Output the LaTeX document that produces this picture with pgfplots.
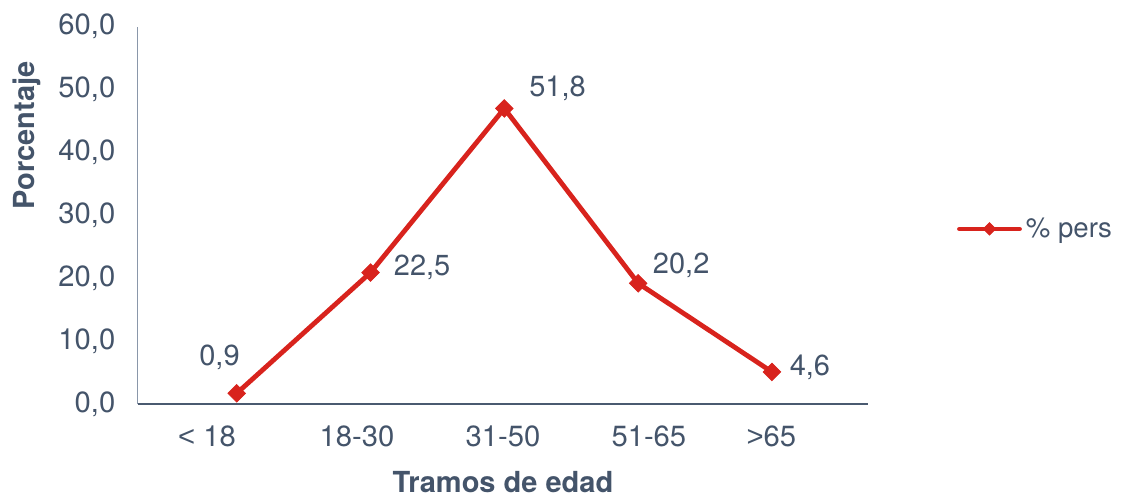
\documentclass[border=0pt]{standalone}
\usepackage{pgfplots}
\pgfplotsset{compat=1.18}
\usepackage{pgfplotstable}
\usepackage{fontspec}
\setmainfont{TeX Gyre Heros}
\newfontfamily\lib{Liberation Sans}
\definecolor{txt}{HTML}{44546A}
\definecolor{ser}{HTML}{D8231D}
\definecolor{yax}{HTML}{8A97AA}
\definecolor{xax}{HTML}{4A5A70}
\pgfplotstableread{
x y lbl dx dy
0 1.70 0,9 -18.9 18.2
1 20.9 22,5 11.5 2.5
2 47.0 51,8 12.3 10.0
3 19.2 20,2 7.2 9.0
4 5.1 4,6 8.7 2.3
}\datatable
\begin{document}
\begin{tikzpicture}
\path[use as bounding box] (-68.85pt,-46.5pt) rectangle (492.15pt,202pt);
\begin{axis}[
  at={(0pt,0pt)}, anchor=south west,
  scale only axis=true,
  width=365.3pt, height=188.65pt,
  xmin=-0.74, xmax=4.72,
  ymin=0, ymax=60,
  ytick={0,10,...,60},
  xtick={-0.222,0.899,1.99,3.08,3.996},
  xticklabels={{{\lib<} 18},18-30,31-50,51-65,{{\lib>}65}},
  axis x line*=bottom, axis y line*=left,
  x axis line style={-, draw=xax, line width=0.6pt},
  y axis line style={-, draw=yax, line width=0.6pt},
  major tick length=0pt,
  tick style={draw=none},
  /pgf/number format/.cd, fixed, fixed zerofill, precision=1, use comma, assume math mode=true,
  /pgfplots/.cd,
  tick label style={font=\fontsize{14.6}{17}\selectfont, text=txt, inner sep=0pt},
  yticklabel style={anchor=east, xshift=-11pt},
  xticklabel style={anchor=north, yshift=-10.5pt},
  xlabel={Tramos de edad},
  ylabel={Porcentaje},
  label style={font=\fontsize{14.5}{17}\selectfont\bfseries, text=txt, inner sep=0pt},
  xlabel style={at={(axis description cs:0.5,0)}, anchor=north, yshift=-33.5pt},
  ylabel style={at={(axis description cs:-0.1711,0.712)}, anchor=north},
  legend style={at={(axis description cs:1.121,0.464)}, anchor=west, draw=none, fill=none,
    inner sep=0pt, font=\fontsize{13.8}{16}\selectfont, text=txt,
    legend cell align=left},
  legend image code/.code={
    \draw[#1, line cap=round, mark=none] (0pt,0pt) -- (30pt,0pt);
    \draw[#1, mark size=2.2pt] plot coordinates {(15pt,0pt)};
  },
  clip=false,
]
\addplot[color=ser, line width=2.4pt, mark=square*, mark size=3.1pt,
  mark options={solid, rotate=45, line width=0.4pt, fill=ser},
  nodes near coords, point meta=explicit symbolic,
  visualization depends on={\thisrow{dx} \as \dx},
  visualization depends on={\thisrow{dy} \as \dy},
  every node near coord/.append style={anchor=west, xshift=\dx pt, yshift=\dy pt,
    inner sep=0pt, text=txt, font=\fontsize{14.5}{17}\selectfont},
] table[x=x, y=y, meta=lbl] {\datatable};
\addlegendentry{\% pers}
\end{axis}
\end{tikzpicture}
\end{document}
